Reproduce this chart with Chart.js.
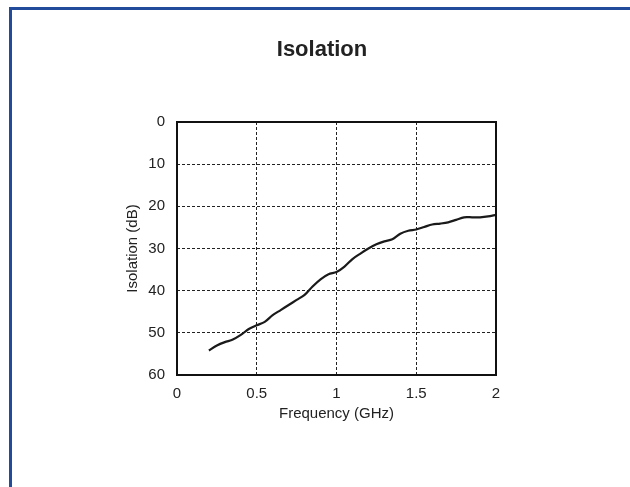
<!DOCTYPE html>
<html>
<head>
<meta charset="utf-8">
<script src="https://cdn.jsdelivr.net/npm/chart.js@4/dist/chart.umd.min.js"></script>
<style>
    html, body { margin: 0; padding: 0; background: #fff; }
    #wrap { position: relative; width: 630px; height: 487px; overflow: hidden; }
    #frame {
        position: absolute; left: 9px; top: 7px; right: -10px; bottom: -10px;
        border-top: 3px solid #234b9b; border-left: 3px solid #234b9b;
    }
    canvas { position: absolute; left: 0; top: 0; }
</style>
</head>
<body>
<div id="wrap">
    <div id="frame"></div>
    <canvas id="isolationChart" width="630" height="487"></canvas>
</div>
<script>
// values
const freqGHz = [0.2, 0.25, 0.3, 0.35, 0.4, 0.45, 0.5, 0.55, 0.6, 0.65, 0.7, 0.75, 0.8, 0.85, 0.9, 0.95,
    1.0, 1.05, 1.1, 1.15, 1.2, 1.25, 1.3, 1.35, 1.4, 1.45, 1.5, 1.55, 1.6, 1.65, 1.7, 1.75, 1.8, 1.85, 1.9, 1.95, 2.0];
const isolationDb = [54.2, 53.0, 52.2, 51.6, 50.5, 49.1, 48.2, 47.4, 45.8, 44.6, 43.4, 42.2, 41.0, 39.0, 37.3, 36.1,
    35.6, 34.3, 32.5, 31.2, 30.0, 29.0, 28.3, 27.8, 26.5, 25.8, 25.5, 24.9, 24.3, 24.1, 23.8, 23.2, 22.6, 22.6, 22.6, 22.4, 22.0];

const xTicks = [0, 0.5, 1, 1.5, 2];
const xTickLabels = ["0", "0.5", "1", "1.5", "2"];
const yTicks = [0, 10, 20, 30, 40, 50, 60];

const FONT = "'Liberation Sans', Arial, Helvetica, sans-serif";

// solid black box round the plot area
const frameBox = {
    id: "frameBox",
    afterDatasetsDraw(chart) {
        const { ctx, chartArea: a } = chart;
        ctx.save();
        ctx.strokeStyle = "#111";
        ctx.lineWidth = 2;
        ctx.strokeRect(a.left, a.top, a.right - a.left, a.bottom - a.top);
        ctx.restore();
    }
};

const ctx = document.getElementById("isolationChart").getContext("2d");

new Chart(ctx, {
    type: "line",
    data: {
        datasets: [{
            label: "Isolation",
            data: freqGHz.map((f, i) => ({ x: f, y: isolationDb[i] })),
            borderColor: "#1a1a1a",
            borderWidth: 2.2,
            pointRadius: 0,
            tension: 0.3,
            fill: false
        }]
    },
    options: {
        responsive: false,
        animation: false,
        layout: { padding: { left: 14, right: 0, top: 0, bottom: 52 } },
        plugins: {
            legend: { display: false },
            tooltip: { enabled: false },
            title: {
                display: true,
                text: "Isolation",
                color: "#222",
                font: { family: FONT, size: 22, weight: "bold", lineHeight: 1.2 },
                padding: { top: 37, bottom: 58.6 }
            }
        },
        scales: {
            x: {
                type: "linear",
                min: 0,
                max: 2,
                afterBuildTicks: s => { s.ticks = xTicks.map(v => ({ value: v })); },
                afterFit: s => { s.height = 60; },
                ticks: {
                    color: "#222",
                    padding: 10,
                    maxRotation: 0,
                    font: { family: FONT, size: 15 },
                    callback: (v, i) => xTickLabels[i]
                },
                grid: {
                    color: "#222",
                    lineWidth: 1,
                    drawTicks: false
                },
                border: { display: false, dash: [3, 2] },
                title: {
                    display: true,
                    text: "Frequency (GHz)",
                    color: "#222",
                    font: { family: FONT, size: 15 },
                    padding: { top: 0, bottom: 12 }
                }
            },
            y: {
                type: "linear",
                reverse: true,
                min: 0,
                max: 60,
                afterBuildTicks: s => { s.ticks = yTicks.map(v => ({ value: v })); },
                afterFit: s => { s.width = 163; },
                ticks: {
                    color: "#222",
                    padding: 12,
                    font: { family: FONT, size: 15 }
                },
                grid: {
                    color: "#222",
                    lineWidth: 1,
                    drawTicks: false
                },
                border: { display: false, dash: [3, 2] },
                title: {
                    display: true,
                    text: "Isolation (dB)",
                    color: "#222",
                    font: { family: FONT, size: 15 },
                    padding: { top: 110, bottom: 0 }
                }
            },
            // empty right-hand box that keeps the plot in place while the title stays centred on the page
            yRight: {
                type: "linear",
                position: "right",
                display: true,
                afterFit: s => { s.width = 134; },
                ticks: { display: false },
                grid: { display: false, drawOnChartArea: false },
                border: { display: false }
            }
        }
    },
    plugins: [frameBox]
});
</script>
</body>
</html>
